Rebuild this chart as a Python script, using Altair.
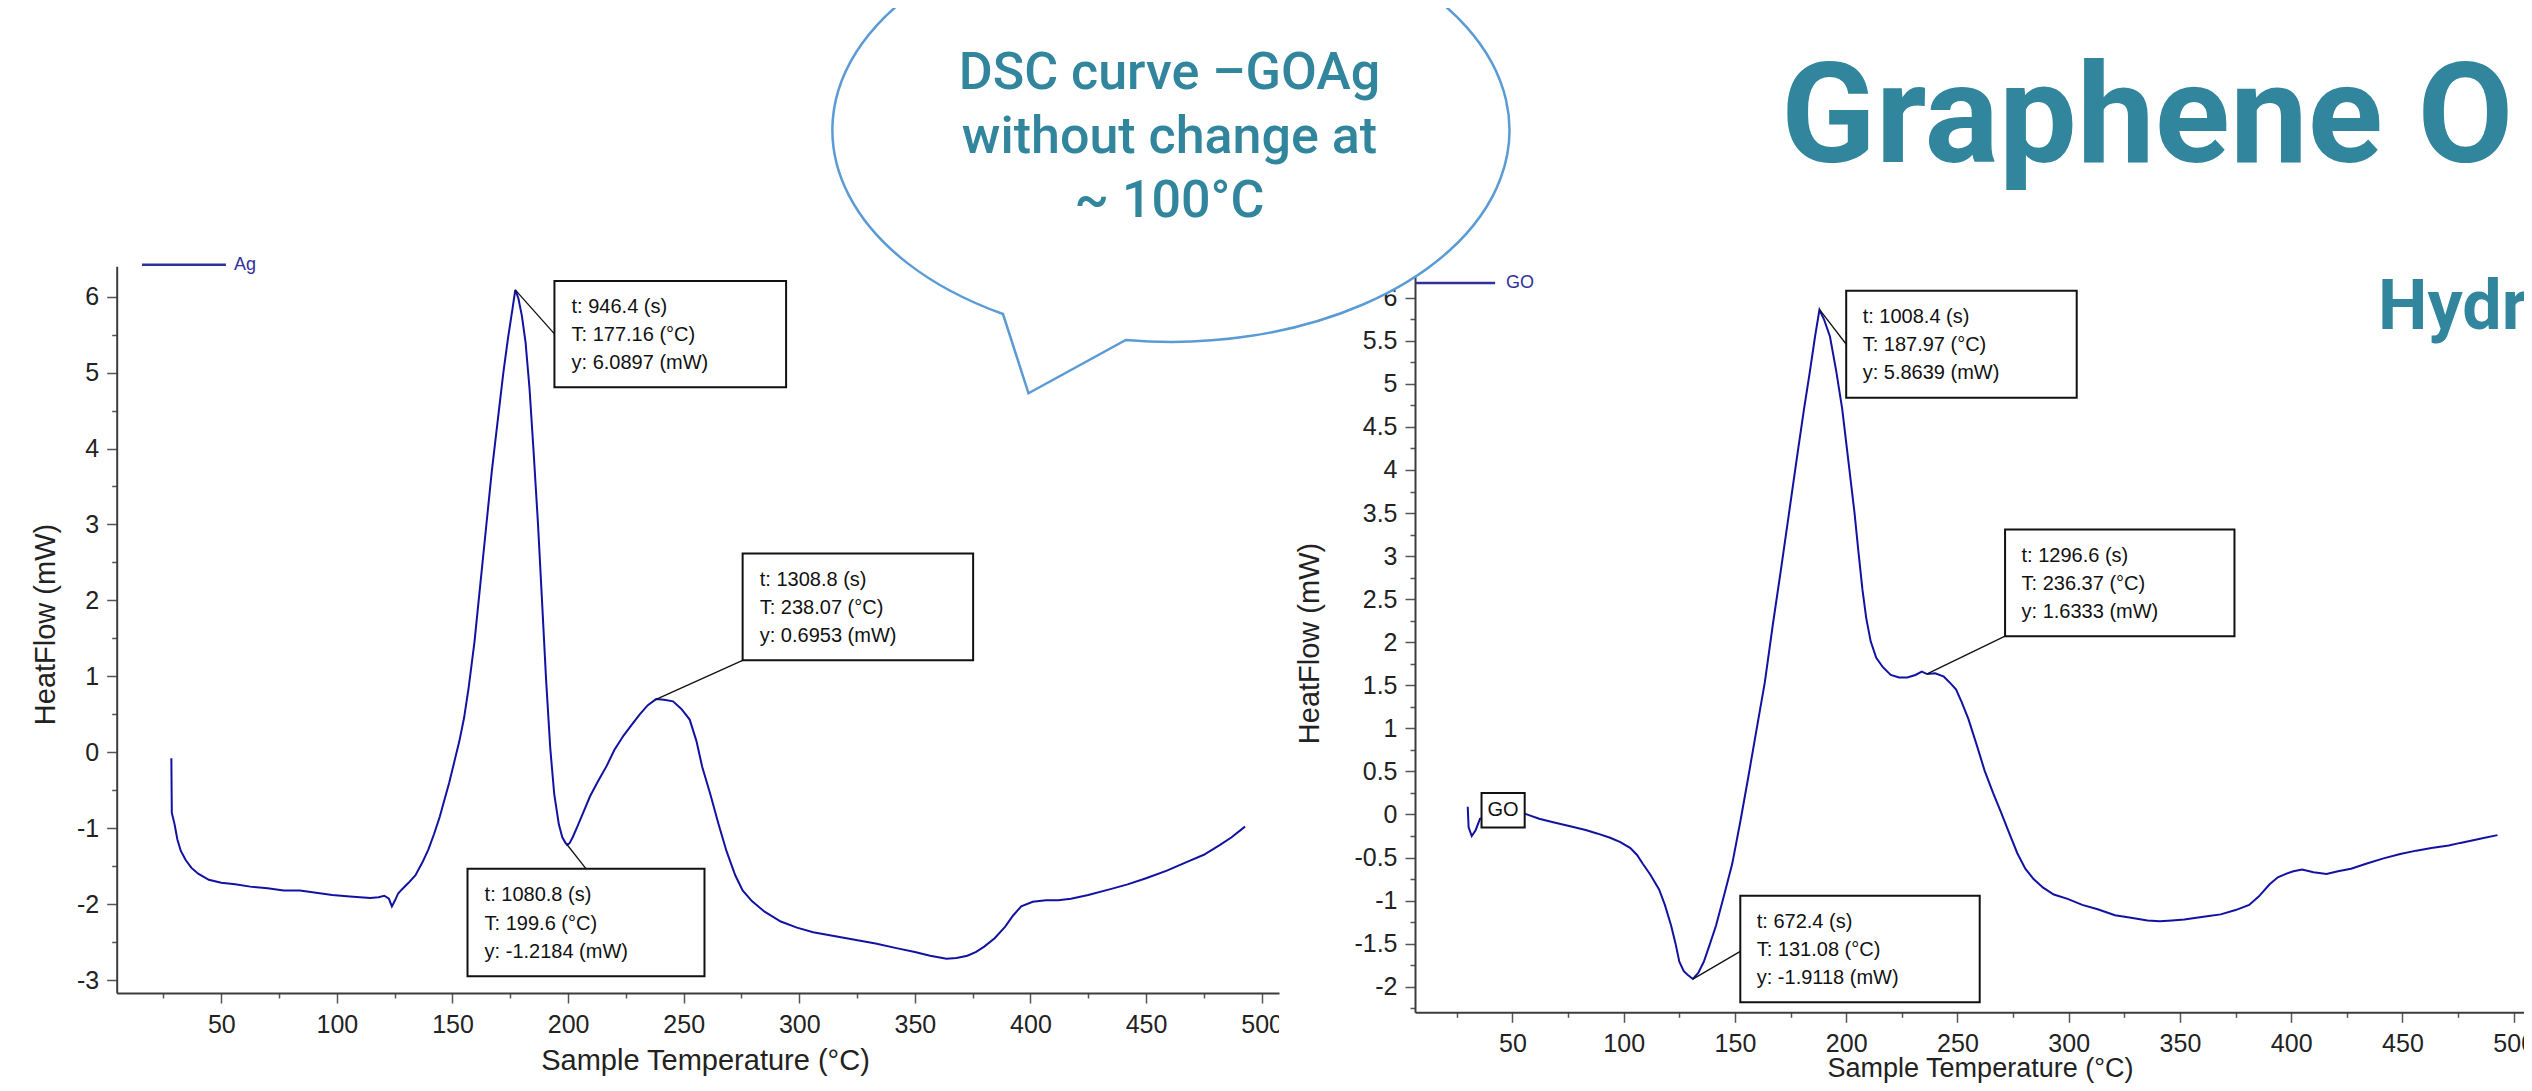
import altair as alt
import pandas as pd

FONT = "Liberation Sans"
TITLE_FONT = "Roboto"
BUBBLE_FONT = "Roboto"
TEAL = "#31859C"
CURVE = "#1212A2"
LEGEND = "#30309A"

# ---------------- data: Ag curve ----------------
ag_T = [28.4, 28.6, 29.8, 31.0, 32.5, 34.6, 37.0, 40.0, 44.6, 50.0,
        56.0, 62.5, 70.0, 77.0, 84.0, 91.0, 98.0, 105.6, 110.0, 114.5,
        118.0, 120.5, 122.5, 123.8, 125.0, 126.5, 128.0, 131.0, 134.0, 137.0,
        139.6, 142.0, 144.5, 146.5, 148.6, 151.0, 153.0, 155.0, 157.0, 159.5,
        162.0, 164.5, 167.0, 169.5, 172.0, 174.0, 176.0, 177.16, 178.5, 180.0,
        181.6, 183.3, 185.0, 187.0, 188.8, 190.5, 192.3, 194.0, 196.0, 197.5,
        198.8, 199.6, 200.6, 202.0, 204.0, 206.5, 209.5, 213.0, 216.7, 220.0,
        224.0, 227.5, 231.0, 234.5, 238.07, 241.5, 245.4, 249.0, 252.6, 255.5,
        258.0, 261.5, 265.0, 268.5, 272.3, 275.5, 279.5, 285.0, 292.0, 299.0,
        306.0, 315.0, 324.0, 333.0, 342.0, 350.0, 356.6, 363.7, 368.0, 372.7,
        376.5, 380.0, 384.5, 389.0, 392.5, 396.0, 401.0, 406.7, 412.0, 417.5,
        425.0, 435.0, 442.0, 450.0, 459.0, 468.0, 475.0, 482.0, 487.0, 492.8]
ag_hf = [-0.08, -0.80, -0.95, -1.15, -1.30, -1.42, -1.52, -1.60, -1.68, -1.72,
         -1.74, -1.77, -1.79, -1.82, -1.82, -1.85, -1.88, -1.90, -1.91, -1.92,
         -1.91, -1.89, -1.93, -2.03, -1.96, -1.86, -1.81, -1.72, -1.62, -1.45,
         -1.28, -1.08, -0.85, -0.63, -0.40, -0.10, 0.15, 0.45, 0.85, 1.45,
         2.20, 2.95, 3.70, 4.35, 5.00, 5.45, 5.85, 6.09, 5.98, 5.75,
         5.40, 4.80, 4.00, 3.00, 1.95, 0.95, 0.05, -0.55, -0.95, -1.12,
         -1.19, -1.22, -1.20, -1.12, -0.98, -0.80, -0.58, -0.38, -0.18, 0.03,
         0.22, 0.36, 0.50, 0.62, 0.70, 0.69, 0.67, 0.57, 0.43, 0.15,
         -0.19, -0.55, -0.94, -1.30, -1.62, -1.82, -1.96, -2.10, -2.23, -2.31,
         -2.37, -2.42, -2.47, -2.52, -2.58, -2.63, -2.68, -2.72, -2.71, -2.68,
         -2.63, -2.56, -2.45, -2.30, -2.15, -2.03, -1.97, -1.95, -1.95, -1.93,
         -1.88, -1.80, -1.74, -1.66, -1.56, -1.44, -1.35, -1.22, -1.12, -0.98]

# ---------------- data: GO curve ----------------
go_T = [29.9, 30.3, 31.7, 33.5, 35.4, 45.0, 55.5, 62.0, 68.3, 75.0,
        82.9, 88.0, 93.9, 98.5, 103.0, 106.0, 108.5, 112.0, 115.9, 118.5,
        121.3, 123.3, 125.0, 127.0, 128.7, 131.08, 133.5, 136.0, 138.8, 141.5,
        145.0, 148.8, 152.5, 156.1, 159.8, 163.4, 167.0, 170.7, 174.3, 178.0,
        181.0, 183.6, 186.0, 187.97, 190.0, 192.7, 195.5, 198.2, 201.0, 203.7,
        205.5, 207.3, 209.0, 211.0, 213.5, 216.5, 220.0, 223.8, 227.5, 231.1,
        234.0, 236.37, 240.0, 243.9, 247.0, 249.4, 252.0, 254.9, 258.5, 262.2,
        266.0, 269.5, 273.0, 276.9, 280.5, 284.2, 288.5, 293.3, 299.5, 306.1,
        313.0, 320.8, 328.0, 335.4, 341.0, 346.4, 352.0, 357.4, 363.0, 368.3,
        375.0, 381.1, 385.5, 390.3, 394.0, 397.6, 401.0, 404.9, 410.0, 415.9,
        421.0, 426.9, 434.0, 441.5, 449.0, 456.2, 463.0, 470.8, 476.0, 481.8,
        487.0, 492.7]
go_hf = [0.09, -0.15, -0.25, -0.18, -0.05, 0.03, 0.01, -0.05, -0.09, -0.13,
         -0.18, -0.22, -0.27, -0.32, -0.39, -0.47, -0.57, -0.70, -0.87, -1.05,
         -1.29, -1.50, -1.71, -1.82, -1.86, -1.91, -1.84, -1.71, -1.50, -1.29,
         -0.95, -0.57, -0.07, 0.45, 1.00, 1.53, 2.20, 2.85, 3.50, 4.17,
         4.70, 5.13, 5.55, 5.86, 5.75, 5.55, 5.15, 4.71, 4.10, 3.51,
         3.05, 2.61, 2.28, 2.01, 1.82, 1.71, 1.62, 1.59, 1.59, 1.62,
         1.66, 1.63, 1.64, 1.60, 1.52, 1.45, 1.30, 1.11, 0.82, 0.51,
         0.25, 0.03, -0.20, -0.45, -0.63, -0.75, -0.85, -0.93, -0.98, -1.05,
         -1.10, -1.17, -1.20, -1.23, -1.24, -1.23, -1.22, -1.20, -1.18, -1.16,
         -1.11, -1.05, -0.95, -0.81, -0.73, -0.69, -0.66, -0.64, -0.67, -0.69,
         -0.66, -0.63, -0.57, -0.51, -0.46, -0.42, -0.39, -0.36, -0.33, -0.30,
         -0.27, -0.24]

# ---------------- tick values ----------------
x_major = [50, 100, 150, 200, 250, 300, 350, 400, 450, 500]
x_minor = [25, 75, 125, 175, 225, 275, 325, 375, 425, 475]
ag_y_major = [-3, -2, -1, 0, 1, 2, 3, 4, 5, 6]
ag_y_minor = [-2.5, -1.5, -0.5, 0.5, 1.5, 2.5, 3.5, 4.5, 5.5]
go_y_major = [-2, -1.5, -1, -0.5, 0, 0.5, 1, 1.5, 2, 2.5, 3, 3.5, 4, 4.5, 5, 5.5, 6]
go_y_minor = [-2.25, -1.75, -1.25, -0.75, -0.25, 0.25, 0.75, 1.25, 1.75, 2.25,
              2.75, 3.25, 3.75, 4.25, 4.75, 5.25, 5.75]

# ---------------- annotations (data units) ----------------
ag_box_x1 = [194.1, 275.5, 156.5]
ag_box_x2 = [294.3, 375.2, 259.0]
ag_box_top = [6.207, 2.616, -1.536]
ag_box_bot = [4.807, 1.210, -2.950]
ag_box_text = [["t: 946.4 (s)", "T: 177.16 (°C)", "y: 6.0897 (mW)"],
               ["t: 1308.8 (s)", "T: 238.07 (°C)", "y: 0.6953 (mW)"],
               ["t: 1080.8 (s)", "T: 199.6 (°C)", "y: -1.2184 (mW)"]]
ag_lead_from = [(177.16, 6.0897), (238.07, 0.6953), (199.6, -1.2184)]
ag_lead_to = [(194.1, 5.51), (275.5, 1.21), (207.8, -1.536)]

go_box_x1 = [200.0, 271.4, 152.4]
go_box_x2 = [303.6, 374.5, 260.0]
go_box_top = [6.08, 3.31, -0.945]
go_box_bot = [4.84, 2.07, -2.18]
go_box_text = [["t: 1008.4 (s)", "T: 187.97 (°C)", "y: 5.8639 (mW)"],
               ["t: 1296.6 (s)", "T: 236.37 (°C)", "y: 1.6333 (mW)"],
               ["t: 672.4 (s)", "T: 131.08 (°C)", "y: -1.9118 (mW)"]]
go_lead_from = [(187.97, 5.8639), (236.37, 1.6333), (131.08, -1.9118)]
go_lead_to = [(200.0, 5.46), (271.4, 2.07), (152.4, -1.59)]

go_tag_box = [36.1, 55.5, 0.25, -0.15]

bubble_lines = ["DSC curve –GOAg", "without change at", "~ 100°C"]
title_text = "Graphene O"
subtitle_text = "Hydr"

# ---------------- scales (pixel ranges inside the canvas) ----------------
LX = alt.Scale(domain=[4.76, 507.5], range=[108.7, 1271.0], nice=False, zero=False)
LY = alt.Scale(domain=[-3.171, 6.4], range=[985.0, 258.3], nice=False, zero=False)
RX = alt.Scale(domain=[6.2, 511.0], range=[1407.0, 1407.0 + 504.8 * 2.225], nice=False, zero=False)
RY = alt.Scale(domain=[-2.297, 6.3], range=[1004.3, 263.9], nice=False, zero=False)

W, H = 2516, 1075


def axis(values, orient, offset, major, **kw):
    d = dict(values=values, orient=orient, offset=offset, grid=False,
             domain=major, domainColor="#3c3c3c", domainWidth=2,
             ticks=True, tickColor="#555555", tickWidth=1.5,
             tickSize=10 if major else 5, labels=major, title=None)
    if major:
        d.update(labelFont=FONT, labelFontSize=25, labelColor="#222222",
                 labelFlush=False, labelOverlap=False, labelBound=False,
                 labelExpr="datum.value + ''",
                 titleFont=FONT, titleFontSize=29, titleFontWeight="normal",
                 titleColor="#222222")
    d.update(kw)
    return alt.Axis(**d)


def plot_layers(T, hf, SX, SY, xoff, yoff, y_major, y_minor, xt, yt, xtsize,
                ytx, yty, box_x1, box_x2, box_top, box_bot, box_text,
                lead_from, lead_to, legend_x, legend_y, legend_label):
    df = pd.DataFrame({"T": T, "hf": hf})
    layers = []
    curve = alt.Chart(df).mark_line(color=CURVE, strokeWidth=2).encode(
        x=alt.X("T:Q", scale=SX, axis=axis(x_major, "bottom", xoff, True, labelPadding=9,
                                           title="Sample Temperature (°C)", titleX=xt, titleY=yt,
                                           titleFontSize=xtsize,
                                           titleBaseline="middle", titleAlign="center")),
        y=alt.Y("hf:Q", scale=SY, axis=axis(y_major, "left", yoff, True, labelPadding=8,
                                            title="HeatFlow (mW)", titleX=ytx, titleY=yty,
                                            titleAngle=270, titleBaseline="middle",
                                            titleAlign="center")),
        order=alt.Order("T:Q"))
    minor = alt.Chart(df).mark_point(opacity=0).encode(
        x=alt.X("T:Q", scale=SX, axis=axis(x_minor, "bottom", xoff, False)),
        y=alt.Y("hf:Q", scale=SY, axis=axis(y_minor, "left", yoff, False)))
    layers += [minor, curve]

    # legend
    leg = pd.DataFrame({"x": [legend_x[0]], "x2": [legend_x[1]], "y": [legend_y],
                        "tx": [legend_x[2]], "label": [legend_label]})
    layers.append(alt.Chart(leg).mark_rule(color=LEGEND, strokeWidth=2.5).encode(
        x=alt.X("x:Q", scale=SX, axis=None), x2="x2:Q",
        y=alt.Y("y:Q", scale=SY, axis=None)))
    layers.append(alt.Chart(leg).mark_text(color=LEGEND, font=FONT, fontSize=18,
                                           align="left", baseline="middle").encode(
        x=alt.X("tx:Q", scale=SX, axis=None), y=alt.Y("y:Q", scale=SY, axis=None),
        text="label:N"))

    # leader lines
    ld = pd.DataFrame({"x": [p[0] for p in lead_from], "y": [p[1] for p in lead_from],
                       "x2": [p[0] for p in lead_to], "y2": [p[1] for p in lead_to]})
    layers.append(alt.Chart(ld).mark_rule(color="#111111", strokeWidth=1.3).encode(
        x=alt.X("x:Q", scale=SX, axis=None), x2="x2:Q",
        y=alt.Y("y:Q", scale=SY, axis=None), y2="y2:Q"))

    # boxes
    bx = pd.DataFrame({"x1": box_x1, "x2": box_x2, "y1": box_top, "y2": box_bot})
    layers.append(alt.Chart(bx).mark_rect(fill="white", stroke="#111111", strokeWidth=2).encode(
        x=alt.X("x1:Q", scale=SX, axis=None), x2="x2:Q",
        y=alt.Y("y1:Q", scale=SY, axis=None), y2="y2:Q"))

    rows = []
    fr = [0.245, 0.51, 0.77]
    for i in range(len(box_text)):
        tx = box_x1[i] + 7.4
        for j, lab in enumerate(box_text[i]):
            ty = box_top[i] + fr[j] * (box_bot[i] - box_top[i])
            rows.append({"tx": tx, "ty": ty, "label": lab})
    tdf = pd.DataFrame(rows)
    layers.append(alt.Chart(tdf).mark_text(font=FONT, fontSize=20, color="#111111",
                                           align="left", baseline="middle").encode(
        x=alt.X("tx:Q", scale=SX, axis=None), y=alt.Y("ty:Q", scale=SY, axis=None),
        text="label:N"))
    return layers


left = plot_layers(ag_T, ag_hf, LX, LY, -90, -108.7, ag_y_major, ag_y_minor,
                   697, 67, 29, -71.7, 616,
                   ag_box_x1, ag_box_x2, ag_box_top, ag_box_bot, ag_box_text,
                   ag_lead_from, ag_lead_to, (15.7, 52.0, 55.5), 6.42, "Ag")

right = plot_layers(go_T, go_hf, RX, RY, -70.7, -1407, go_y_major, go_y_minor,
                    1972, 56, 27, -106, 635,
                    go_box_x1, go_box_x2, go_box_top, go_box_bot, go_box_text,
                    go_lead_from, go_lead_to, (6.65, 42.2, 47.1), 6.17, "GO")

# the right-hand screenshot overlaps the end of the left x axis (hides part of "500")
overlap = pd.DataFrame({"x1": [-54.9], "x2": [-27.5], "y1": [-2.21], "y2": [-2.68]})
right.insert(0, alt.Chart(overlap).mark_rect(fill="white", stroke=None).encode(
    x=alt.X("x1:Q", scale=RX, axis=None), x2="x2:Q",
    y=alt.Y("y1:Q", scale=RY, axis=None), y2="y2:Q"))

# GO tag box on the right plot
tag = pd.DataFrame({"x1": [go_tag_box[0]], "x2": [go_tag_box[1]], "y1": [go_tag_box[2]],
                    "y2": [go_tag_box[3]], "tx": [(go_tag_box[0] + go_tag_box[1]) / 2],
                    "ty": [(go_tag_box[2] + go_tag_box[3]) / 2], "label": ["GO"]})
right.append(alt.Chart(tag).mark_rect(fill="white", stroke="#111111", strokeWidth=2).encode(
    x=alt.X("x1:Q", scale=RX, axis=None), x2="x2:Q",
    y=alt.Y("y1:Q", scale=RY, axis=None), y2="y2:Q"))
right.append(alt.Chart(tag).mark_text(font=FONT, fontSize=20, color="#111111",
                                      align="center", baseline="middle").encode(
    x=alt.X("tx:Q", scale=RX, axis=None), y=alt.Y("ty:Q", scale=RY, axis=None),
    text="label:N"))

# ---------------- speech bubble ----------------
BUBBLE_PATH = "M -0.437 2.1 A 3.385 2.117 0 1 0 -1.665 1.84 L -1.41 2.633 Z"
bubble = alt.Chart(pd.DataFrame({"k": [0]})).mark_point(
    shape=BUBBLE_PATH, size=40000, fill="white", fillOpacity=1, stroke="#5B9BD5",
    strokeWidth=2.5, opacity=1, filled=False).encode(
    x=alt.value(1161.5), y=alt.value(122))

btxt = pd.DataFrame({"label": bubble_lines, "yy": [81, 145, 209]})
bubble_text = alt.Chart(btxt).mark_text(font=BUBBLE_FONT, fontSize=52, fontWeight=500,
                                        color=TEAL, align="center",
                                        baseline="alphabetic").encode(
    x=alt.value(1161.5), y=alt.Y("yy:Q", scale=None), text="label:N")

ttl = pd.DataFrame({"label": [title_text]})
title = alt.Chart(ttl).mark_text(font=TITLE_FONT, fontSize=139, fontWeight="bold",
                                 color=TEAL, align="left", baseline="alphabetic").encode(
    x=alt.value(1773), y=alt.value(154), text="label:N")
sttl = pd.DataFrame({"label": [subtitle_text]})
subtitle = alt.Chart(sttl).mark_text(font=TITLE_FONT, fontSize=70, fontWeight="bold",
                                     color=TEAL, align="left", baseline="alphabetic").encode(
    x=alt.value(2370), y=alt.value(321), text="label:N")

chart = alt.layer(*left, *right, bubble, bubble_text, title, subtitle).resolve_scale(
    x="independent", y="independent").properties(
    width=W, height=H, autosize=alt.AutoSizeParams(type="none"), padding=0,
    background="white").configure_view(stroke=None)

chart.save("out.html", embed_options={"renderer": "svg", "actions": False})
